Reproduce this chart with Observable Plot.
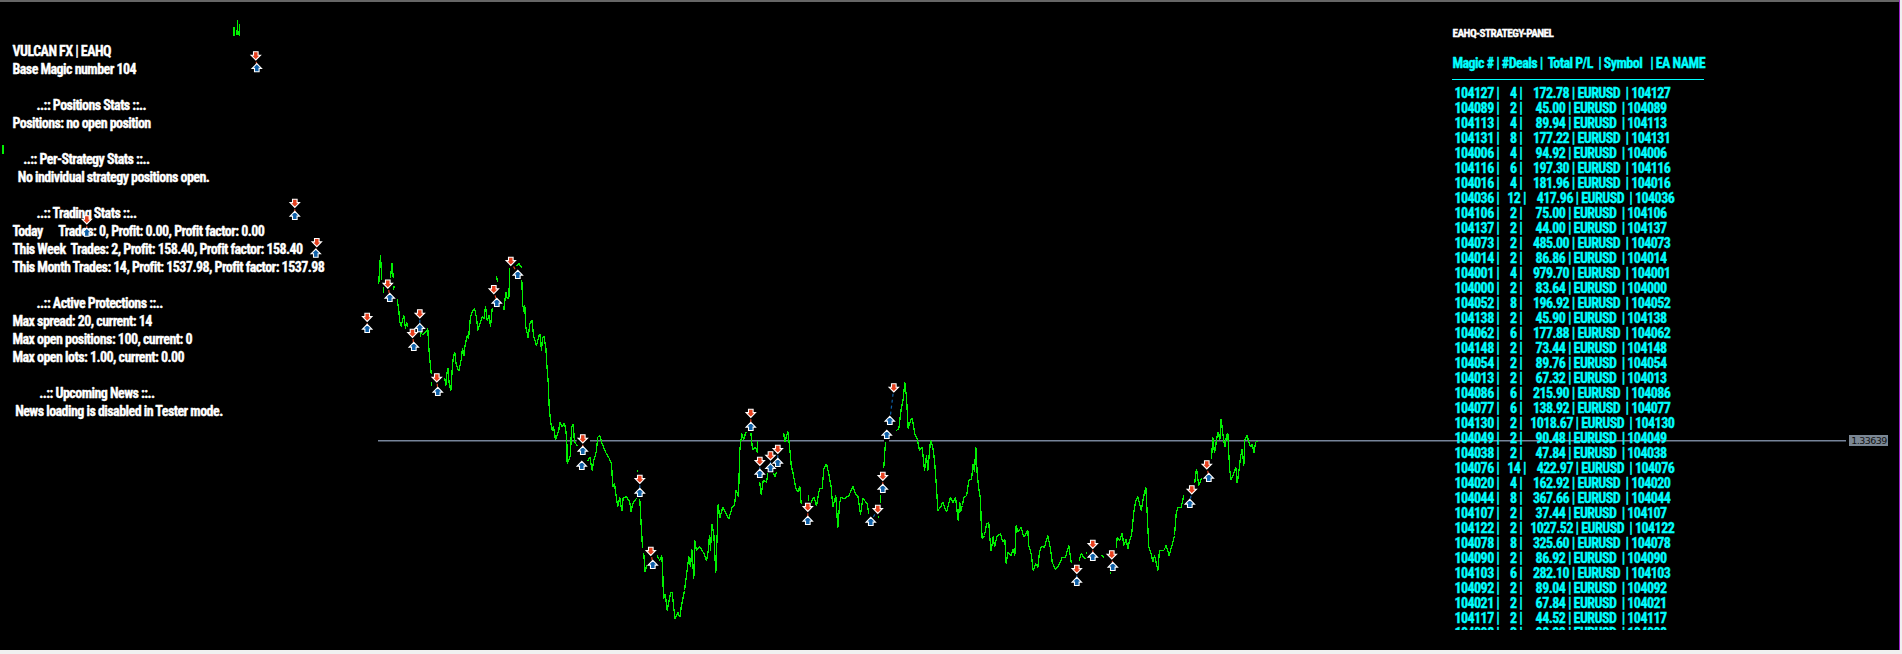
<!DOCTYPE html>
<html><head><meta charset="utf-8">
<style>
html,body{margin:0;padding:0;background:#f0f0f0;overflow:hidden;width:1902px;height:654px}
#chart{width:1899px;height:650px;border-right:1px solid #9a22c8}
svg{display:block}
svg text{letter-spacing:-0.55px}
</style>
<script src="https://cdn.jsdelivr.net/npm/d3@7"></script>
<script src="https://cdn.jsdelivr.net/npm/@observablehq/plot@0.6"></script>
</head><body><div id="chart"></div>
<script>
// ---- Data (chart units = screen units of the terminal window) ----
const infoLines = [
"VULCAN FX | EAHQ","Base Magic number 104","",
"         ..:: Positions Stats ::..","Positions: no open position","",
"    ..:: Per-Strategy Stats ::..","  No individual strategy positions open.","",
"         ..:: Trading Stats ::..","Today      Trades: 0, Profit: 0.00, Profit factor: 0.00",
"This Week  Trades: 2, Profit: 158.40, Profit factor: 158.40",
"This Month Trades: 14, Profit: 1537.98, Profit factor: 1537.98","",
"         ..:: Active Protections ::..","Max spread: 20, current: 14",
"Max open positions: 100, current: 0","Max open lots: 1.00, current: 0.00","",
"          ..:: Upcoming News ::.."," News loading is disabled in Tester mode."];
const panelTitle = "EAHQ-STRATEGY-PANEL";
const panelHeader = "Magic # | #Deals |  Total P/L  | Symbol   | EA NAME";
const magics = [104127,104089,104113,104131,104006,104116,104016,104036,104106,104137,104073,104014,104001,104000,104052,104138,104062,104148,104054,104013,104086,104077,104130,104049,104038,104076,104020,104044,104107,104122,104078,104090,104103,104092,104021,104117,104098];
const deals = [4,2,4,8,4,6,4,12,2,2,2,2,4,2,8,2,6,2,2,2,6,6,2,2,2,14,4,8,2,2,8,2,6,2,2,2,2];
const pnl = ["172.78","45.00","89.94","177.22","94.92","197.30","181.96","417.96","75.00","44.00","485.00","86.86","979.70","83.64","196.92","45.90","177.88","73.44","89.76","67.32","215.90","138.92","1018.67","90.48","47.84","422.97","162.92","367.66","37.44","1027.52","325.60","86.92","282.10","89.04","67.84","44.52","90.38"];
const symbol = "EURUSD";
const lastPrice = "1.33639";
// price trace: [bar position, price level]; null = gap in the drawn line
const priceTrace = [[378.3,282.7],[379,270],[380,255],[381.3,279],null,[390,277],[391,268],[391.7,262.7],[392.7,277],null,[382.7,292],[382.9,287],null,[393.3,289],[393.5,286],null,
[396.7,299.3],[398.3,310],[399.3,321.7],[400.7,326],[401.5,322],[403.3,315],[405,328],[406,322],[407.3,325.7],null,
[420,336],[420.5,332],null,[422,334],[425,331.7],[427.3,328.3],[428.3,346.7],[429.7,363.3],[430.7,373.3],null,[431.3,382],[431.3,385],null,
[444.3,378],[445.3,385.7],[446,376],[447.3,367.3],[448.7,383.3],[450.3,390.7],[451.7,369.3],[452.7,357.7],[454.3,351.7],[455.7,364],[458.3,370.7],[460.7,359.3],[462,347.3],[463.3,355.7],[464.7,344],[466.7,335],[468,338.3],[470,316],[471.7,311.7],[474,307.7],[476,317.3],[477.3,330],[480,321.7],[482,316],[483.5,318],[485,306],[486.7,320],[488.7,315],[490,326.7],[491.7,307.7],null,
[496,276],[497,281],null,[502.7,306],[503.5,309],[505.3,291.7],[506.5,297],[508.3,298.3],[509.3,268.3],null,[516,265.3],[518.7,263.3],[520.7,266.7],null,
[521.3,280],[522.3,305],[523.7,311.7],[524.3,305],[525.3,326.7],[527.7,337.3],[529.3,323.3],[531.3,319.3],[533.3,336.7],[536,345],[538,337],[539.3,333.3],[541,350],[542,338],[543.3,335.7],[545.3,346.7],[546.3,363.3],[547.7,381.7],[548.7,406.7],[550,420],[551.7,430],[553,426],[555,439.3],[558.3,430],[559.3,421.7],[561.7,426],[564,422.7],[565.3,430],[566.3,439.3],[566.7,463.3],[568,460],[570,455],[571,426.7],[572.7,424],[574,441.7],[576.7,445],null,
[587.3,460],[589.3,456.7],[591.7,470],[593.3,460],[595.7,451.7],[597.3,436.7],[599.3,435],[601.7,443.3],[605,451.7],[609,458.3],[611,463.3],[612.3,486.7],[614,482.7],[615.7,496],[617.3,506],[619.3,496.7],[621.3,510.7],[622.7,497.3],[626,496],[629.3,501.7],[630.7,511.7],[632,503.3],[635.7,498.3],null,
[637.3,470],[637.3,471],null,[639.3,499.3],[640.7,525],[642,546.7],null,[643.3,553.3],[644.7,571.7],[646,565],null,
[656.7,555],[659.3,560],[661.3,555],[662.3,573.3],[663,598.3],[664.7,593.3],[666.7,610],[670,592.7],[671.7,591.7],[673.3,608.3],[674.7,618.3],[677.3,611.7],[679.3,616.7],[680.7,606.7],[684,590],[686,575],[688.3,556],[690,566.7],[691.3,548.3],[693.3,578.3],[694.3,540],[696,550],[699,546],[703.3,552.7],[706,560.7],[707.7,550],[709,535],[710,550],[711.3,523.3],[713.3,533.3],[715.3,572.7],[716.7,533.3],[717.7,503.3],[719.3,517.3],[722.3,506.7],[724.7,511.7],[728.3,518.3],[731.7,506.7],[734,505],[735.5,490],[738,496],[739.3,450],[741.3,433],[743,439],[745.5,431.5],null,
[750.5,433.3],[752,449.3],[755,446.7],[757.3,452.7],[757.3,440.7],null,[759.3,481.7],[760.7,494],[762.7,480],[766,481.7],[767.3,473.3],null,[773.3,473.3],[774.3,476.7],[775.7,472.3],null,
[783.3,433.3],[784.3,441.7],[787.3,431],[789,445],[790.7,465],[792.7,473.3],[795,486.7],[797.3,491.7],[799.3,486],[800.7,503.3],null,[808.3,495],[808.3,500],null,
[810.7,501.7],[813.3,496.7],[816,505],[819,488.3],[821.7,488.3],[823.3,468.3],[826,463.3],[828.3,473.3],[830.7,486.7],[832.3,506.7],[835.3,495],[837.3,527.3],[839.3,501.7],[840.7,496.7],[844,498.3],[848.3,495],[852.7,486],[855,494],[857.3,495],[860,514],[862.3,497.7],[866.7,503.3],[868.3,513.3],null,
[877.7,516],[877.7,517],null,[880.3,495],[880.3,501.7],null,[883.3,466.7],[885,441.7],null,
[895.7,430],[898.3,428.3],[900.7,408.3],[902.7,398.3],[904.3,381.7],[906,396.7],[907.7,428.3],[910,420],[911.7,417.3],[914.3,433.3],[916.7,438.3],[919,450],[921.7,446.7],[924,470],[926,455],[927.3,470],[930,440],[932.3,446.7],[934,460],[936,486.7],[937.3,510],[940,506.7],[942.3,501.7],[946,511.7],[950,496.7],[952.5,502],[955,496.7],[957.7,520],[959.3,501.7],[960,511],[962,505],[963.3,496.7],[966,496],[968.3,480],[971,478.3],[972.7,463.3],[974,471.7],[975.3,446.7],[976.7,473.3],[978.3,488.3],[980,498.3],[980.7,521.7],[981.7,538.3],[984,535],[986,523.3],[988.3,522.3],[989.3,536.7],[990.7,550.7],[992.7,536],[994,546.7],[996.7,535],[1000,533.3],[1002.3,541.7],[1004.3,538.3],[1005.7,563.3],[1007.3,551.7],[1010.7,555],[1012.7,548.3],[1014.3,555],[1015.7,525],[1017.3,531.7],[1020.7,526.7],[1023.3,536.7],[1027.3,530],[1028.3,545],[1030.7,553.3],[1032.7,570],[1035,563.3],[1037.3,566.7],[1039,551.7],[1041,546],[1044,546.7],[1047.3,535],[1050,548.3],[1051.7,561.7],[1055,569],[1058.3,565],[1061.7,556.7],[1065,556.7],[1068.3,545],[1070.7,561.7],null,
[1078.7,560],[1080.7,553.3],[1083.3,556.7],[1084.5,558],null,[1086,552],[1086,553],null,[1101,555],[1103.3,556.7],null,[1109.7,572],[1109.7,573],null,
[1115.7,546.7],[1116.7,536.7],[1119.3,540],[1121.7,532.7],[1123.3,545],[1125.7,538.3],[1127.3,548.3],[1129,540],[1131,535],[1133.3,511.7],[1135,501.7],[1137.3,496],[1140.7,510],[1143,497],[1145.3,486.7],[1146.7,513.3],[1148.3,546.7],[1150.7,553.3],[1152.3,561.7],[1154,555],[1156.7,566.7],[1157.3,570],[1159,550],[1163.3,550],[1165.7,545],[1168.7,555],[1171.7,544],[1174,535],[1175.7,513.3],[1177.3,506.7],[1180.7,506.7],[1183.3,495],null,
[1194.3,481.7],[1196,468.3],[1198.3,485],[1200.7,478.3],null,
[1211,458.3],[1212.3,436.7],[1214,452.7],[1216,440],[1217.3,431.7],[1219.3,439.3],[1220.7,418.3],[1222.3,433.3],[1224.3,446.7],[1226,435],[1227.3,432.7],[1228.3,453.3],[1229.3,470],[1230.7,479.3],[1233.3,472.7],[1235.3,466.7],[1236.7,482.7],[1238.7,468.3],[1240,456.7],[1241.7,448.3],[1243.3,465],[1244.3,439.3],[1246.7,435],[1248.3,441.7],[1250,446.7],[1251.7,443.3],[1253.3,452.3],[1255.3,441.7],[1256.7,440.7],null,
[233.5,35],[233.5,27],null,[236.5,34],[237,20],[237.5,34],null,[239,35],[239,24],null,[2.5,145],[2.5,153]];
// trades: sell arrow, buy arrow, colour of the connector
const sellX = [255.3,294.3,86.3,316.3,387.3,366.7,419.3,412,436.3,493.3,510.3,582.3,639.3,650.3,750.3,759.3,770,777.3,807.3,877.3,882.3,893.3,1076.3,1092.3,1111.3,1191.3,1206.3];
const sellY = [55.3,202.7,219.3,242,283.5,316.7,313.3,332.7,377.3,289,260.7,438.3,478.7,550.7,412.7,460.7,455.3,448.7,506.7,508.7,475.7,387.3,568.7,543.7,554.3,489.3,464.3];
const buyX  = [256.3,294.3,86.3,315.3,389.3,366.7,419.3,413.3,437.3,496.3,517.3,582.3,639.3,652.3,750.3,759.3,770,777.3,807.3,870.3,882.3,889.3,1076.3,1092.3,1112.3,1189.3,1208.3];
const buyY  = [67.3,215,231.7,252.7,297,328,327.3,346,391,302,274,450,492,564,426,473,467.3,462,520,521,488,420,581,556,566,503,477];
const linkBlue = [0,0,0,0,0,0,1,0,0,0,0,0,1,0,0,1,1,1,0,1,0,1,1,0,0,1,0];
const extraBuyX = [581.3,886.3];
const extraBuyY = [465,434];
const priceLevel = 440.3;
const levelSpans = [[378,576.7],[590,884],[889,1846]];

// ---- Layout and style ----
const W = 1899, H = 650;
const RED = "#e6401e", BLUE = "#0f60a8", GREEN = "#00f000", CYAN = "#00ffff";
const LABEL_FONT = "'Liberation Sans Narrow','Roboto Condensed','DejaVu Sans Condensed',sans-serif";
const arrow = (dir) => ({draw(c, size){
  const k = Math.sqrt(size/Math.PI)/4, p = [[-2.3,-4],[2.3,-4],[2.3,-0.6],[4.7,-0.6],[0,4.2],[-4.7,-0.6],[-2.3,-0.6]];
  p.forEach(([a,b],i)=> i ? c.lineTo(a*k,b*k*dir) : c.moveTo(a*k,b*k*dir)); c.closePath();
}});
const rows = magics.map((m,i)=>{
  const dealPad = " ".repeat(deals[i] > 9 ? 3 : 4);
  const pnlPad = " ".repeat(10 - pnl[i].length);
  return `${m} |${dealPad}${deals[i]} |${pnlPad}${pnl[i]} | ${symbol}  | ${m}`;
});
const tradeIdx = d3.range(sellX.length);
const trace = priceTrace.map(d => d ? {x:d[0],y:d[1]} : {x:NaN,y:NaN});
const textOpts = {fontFamily:LABEL_FONT,fontWeight:700,fontSize:14,textAnchor:"start",frameAnchor:"left",strokeWidth:0.35};
const arrowOpts = {r:4,stroke:"#fff",strokeWidth:1.1};

const chart = Plot.plot({
  width:W,height:H,margin:0,
  x:{domain:[0,W],range:[0,W],axis:null},
  y:{domain:[0,H],range:[0,H],axis:null},
  style:{background:"#000",display:"block",maxWidth:"none"},
  marks:[
    Plot.ruleY([0.5],{stroke:"#666",strokeWidth:2}),
    Plot.ruleY(levelSpans,{y:()=>priceLevel,x1:d=>d[0],x2:d=>d[1],stroke:"#76849a",strokeWidth:1.4}),
    Plot.text([panelTitle],{...textOpts,x:()=>1452,y:()=>33,text:d=>d,fill:"#fff",stroke:"#fff",fontSize:11.2}),
    Plot.text([panelHeader],{...textOpts,x:()=>1452,y:()=>63,text:d=>d,fill:CYAN,stroke:CYAN,fontSize:14}),
    Plot.ruleY([79],{x1:1452,x2:1704,stroke:CYAN,strokeWidth:1}),
    Plot.text(rows,{...textOpts,x:()=>1454,y:(d,i)=>93.3+15*i,text:d=>d,fill:CYAN,stroke:CYAN}),
    Plot.rectY([0],{x1:1440,x2:1720,y1:()=>630,y2:()=>645,fill:"#000"}),
    Plot.line(trace,{x:"x",y:"y",stroke:GREEN,strokeWidth:1.3,curve:"linear",shapeRendering:"crispEdges",strokeLinejoin:"miter"}),
    Plot.text(infoLines,{...textOpts,x:()=>12,y:(d,i)=>51+18*i,text:d=>d,fill:"#fff",stroke:"#fff"}),
    Plot.link(tradeIdx,{x1:i=>sellX[i],y1:i=>sellY[i],x2:i=>buyX[i],y2:i=>buyY[i],stroke:i=>linkBlue[i]?BLUE:RED,strokeWidth:1.2,strokeDasharray:"3 3"}),
    Plot.dot(tradeIdx,{...arrowOpts,x:i=>sellX[i],y:i=>sellY[i],symbol:arrow(1),fill:RED}),
    Plot.dot(tradeIdx,{...arrowOpts,x:i=>buyX[i],y:i=>buyY[i],symbol:arrow(-1),fill:BLUE}),
    Plot.dot(d3.range(extraBuyX.length),{...arrowOpts,x:i=>extraBuyX[i],y:i=>extraBuyY[i],symbol:arrow(-1),fill:BLUE}),
    Plot.rectY([0],{x1:1849,x2:1888,y1:()=>435,y2:()=>446,fill:"#7b8794"}),
    Plot.text([lastPrice],{x:()=>1868.5,y:()=>440.7,text:d=>d,fill:"#111",fontFamily:"'DejaVu Sans',sans-serif",fontSize:9.5})
  ]
});
document.getElementById("chart").append(chart);
</script>
</body></html>
